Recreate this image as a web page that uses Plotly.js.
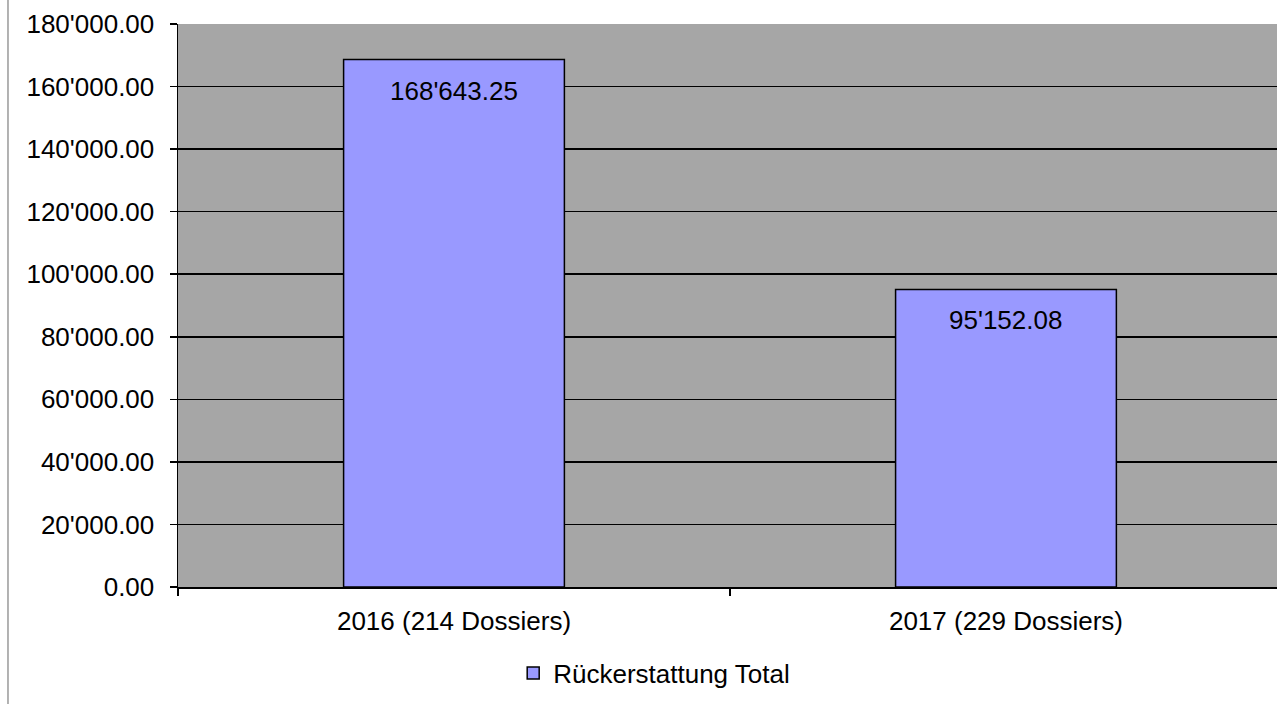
<!DOCTYPE html>
<html>
<head>
<meta charset="utf-8">
<script src="https://cdn.plot.ly/plotly-3.0.1.min.js"></script>
<style>
  html, body { margin: 0; padding: 0; background: #fff; }
  #chart { width: 1277px; height: 704px; }
</style>
</head>
<body>
<div id="chart"></div>
<script>
const categories = ["2016 (214 Dossiers)", "2017 (229 Dossiers)"];
const refundTotal = [168643.25, 95152.08];
const valueLabels = ["168'643.25", "95'152.08"];
const seriesName = "Rückerstattung Total";

const data = [{
  x: categories,
  y: refundTotal,
  name: seriesName,
  type: "bar",
  width: 0.4,
  marker: {color: "#9999FF", line: {color: "#000000", width: 1.5}},
  hoverinfo: "none",
  showlegend: true
}];

// value labels sit just below the top of each bar
const annotations = categories.map((c, i) => ({
  x: c,
  y: refundTotal[i],
  text: valueLabels[i],
  showarrow: false,
  yanchor: "top",
  yshift: -14,
  font: {family: "Liberation Sans, Arial, sans-serif", size: 26, color: "#000"}
}));

// grey frame line at the far left of the chart area
const shapes = [{
  type: "line", xref: "paper", yref: "paper",
  x0: -0.1547, x1: -0.1547, y0: -0.3, y1: 1.1,
  line: {color: "#999999", width: 1.5}
}];

const layout = {
  width: 1277,
  height: 704,
  margin: {l: 178, r: 0, t: 24, b: 117},
  paper_bgcolor: "#ffffff",
  plot_bgcolor: "#A6A6A6",
  separators: ".'",
  font: {family: "Liberation Sans, Arial, sans-serif", size: 26, color: "#000"},
  xaxis: {
    type: "category",
    range: [-0.5, 1.491],
    showgrid: false,
    showline: true,
    linecolor: "#000",
    linewidth: 1.5,
    ticks: "outside",
    tickson: "boundaries",
    ticklen: 7,
    tickwidth: 1.5,
    tickcolor: "#000",
    ticklabelstandoff: 10,
    tickfont: {size: 26},
    fixedrange: true
  },
  yaxis: {
    range: [0, 180000],
    dtick: 20000,
    tickformat: ",.2f",
    showgrid: true,
    gridcolor: "#000",
    gridwidth: 1.6,
    zeroline: false,
    showline: true,
    linecolor: "#000",
    linewidth: 1.5,
    ticks: "outside",
    ticklen: 7,
    tickwidth: 1.5,
    tickcolor: "#000",
    ticklabelstandoff: 10,
    tickfont: {size: 26},
    fixedrange: true
  },
  showlegend: true,
  legend: {
    orientation: "h",
    x: 0.305,
    xanchor: "left",
    y: -0.153,
    yanchor: "middle",
    font: {size: 26},
    itemwidth: 30
  },
  annotations: annotations,
  shapes: shapes
};

Plotly.newPlot("chart", data, layout, {displayModeBar: false, staticPlot: true});
</script>
</body>
</html>
